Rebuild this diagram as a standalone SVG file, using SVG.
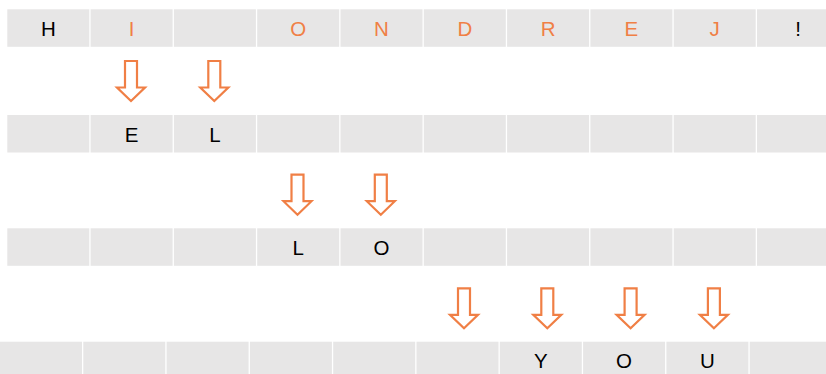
<svg xmlns="http://www.w3.org/2000/svg" width="826" height="374" viewBox="0 0 826 374">
<style>
.c{fill:#E7E6E6}
.t{font-family:"Liberation Sans",Arial,sans-serif;font-size:20.5px;text-anchor:middle;fill:#000}
.o{fill:#F07F45}
.a{fill:#FFFFFF;stroke:#F07F45;stroke-width:2.2;stroke-linejoin:miter}
</style>
<defs>
<path id="arr" class="a" d="M-6,0 H6 V26.5 H14 L0,40 L-14,26.5 H-6 Z"/>
</defs>
<rect width="826" height="374" fill="#FFFFFF"/>
<g id="row1">
<g id="r1c0"><rect class="c" x="7.3" y="9.3" width="82" height="37.5"/><text class="t" x="48.3" y="35.5">H</text></g>
<g id="r1c1"><rect class="c" x="90.6" y="9.3" width="82" height="37.5"/><text class="t o" x="131.6" y="35.5">I</text></g>
<g id="r1c2"><rect class="c" x="173.9" y="9.3" width="82" height="37.5"/></g>
<g id="r1c3"><rect class="c" x="257.2" y="9.3" width="82" height="37.5"/><text class="t o" x="298.2" y="35.5">O</text></g>
<g id="r1c4"><rect class="c" x="340.5" y="9.3" width="82" height="37.5"/><text class="t o" x="381.5" y="35.5">N</text></g>
<g id="r1c5"><rect class="c" x="423.8" y="9.3" width="82" height="37.5"/><text class="t o" x="464.8" y="35.5">D</text></g>
<g id="r1c6"><rect class="c" x="507.1" y="9.3" width="82" height="37.5"/><text class="t o" x="548.1" y="35.5">R</text></g>
<g id="r1c7"><rect class="c" x="590.4" y="9.3" width="82" height="37.5"/><text class="t o" x="631.4" y="35.5">E</text></g>
<g id="r1c8"><rect class="c" x="673.7" y="9.3" width="82" height="37.5"/><text class="t o" x="714.7" y="35.5">J</text></g>
<g id="r1c9"><rect class="c" x="757" y="9.3" width="82" height="37.5"/><text class="t" x="798" y="35.5">!</text></g>
</g>
<g id="row2">
<g id="r2c0"><rect class="c" x="7.3" y="115" width="82" height="37.5"/></g>
<g id="r2c1"><rect class="c" x="90.6" y="115" width="82" height="37.5"/><text class="t" x="131.6" y="141.5">E</text></g>
<g id="r2c2"><rect class="c" x="173.9" y="115" width="82" height="37.5"/><text class="t" x="214.9" y="141.5">L</text></g>
<g id="r2c3"><rect class="c" x="257.2" y="115" width="82" height="37.5"/></g>
<g id="r2c4"><rect class="c" x="340.5" y="115" width="82" height="37.5"/></g>
<g id="r2c5"><rect class="c" x="423.8" y="115" width="82" height="37.5"/></g>
<g id="r2c6"><rect class="c" x="507.1" y="115" width="82" height="37.5"/></g>
<g id="r2c7"><rect class="c" x="590.4" y="115" width="82" height="37.5"/></g>
<g id="r2c8"><rect class="c" x="673.7" y="115" width="82" height="37.5"/></g>
<g id="r2c9"><rect class="c" x="757" y="115" width="82" height="37.5"/></g>
</g>
<g id="row3">
<g id="r3c0"><rect class="c" x="7.3" y="228.3" width="82" height="37.5"/></g>
<g id="r3c1"><rect class="c" x="90.6" y="228.3" width="82" height="37.5"/></g>
<g id="r3c2"><rect class="c" x="173.9" y="228.3" width="82" height="37.5"/></g>
<g id="r3c3"><rect class="c" x="257.2" y="228.3" width="82" height="37.5"/><text class="t" x="298.2" y="254.8">L</text></g>
<g id="r3c4"><rect class="c" x="340.5" y="228.3" width="82" height="37.5"/><text class="t" x="381.5" y="254.8">O</text></g>
<g id="r3c5"><rect class="c" x="423.8" y="228.3" width="82" height="37.5"/></g>
<g id="r3c6"><rect class="c" x="507.1" y="228.3" width="82" height="37.5"/></g>
<g id="r3c7"><rect class="c" x="590.4" y="228.3" width="82" height="37.5"/></g>
<g id="r3c8"><rect class="c" x="673.7" y="228.3" width="82" height="37.5"/></g>
<g id="r3c9"><rect class="c" x="757" y="228.3" width="82" height="37.5"/></g>
</g>
<g id="row4">
<g id="r4c0"><rect class="c" x="0" y="341.7" width="82" height="37.5"/></g>
<g id="r4c1"><rect class="c" x="83.3" y="341.7" width="82" height="37.5"/></g>
<g id="r4c2"><rect class="c" x="166.6" y="341.7" width="82" height="37.5"/></g>
<g id="r4c3"><rect class="c" x="249.9" y="341.7" width="82" height="37.5"/></g>
<g id="r4c4"><rect class="c" x="333.2" y="341.7" width="82" height="37.5"/></g>
<g id="r4c5"><rect class="c" x="416.5" y="341.7" width="82" height="37.5"/></g>
<g id="r4c6"><rect class="c" x="499.8" y="341.7" width="82" height="37.5"/><text class="t" x="540.8" y="368.2">Y</text></g>
<g id="r4c7"><rect class="c" x="583.1" y="341.7" width="82" height="37.5"/><text class="t" x="624.1" y="368.2">O</text></g>
<g id="r4c8"><rect class="c" x="666.4" y="341.7" width="82" height="37.5"/><text class="t" x="707.4" y="368.2">U</text></g>
<g id="r4c9"><rect class="c" x="749.7" y="341.7" width="82" height="37.5"/></g>
</g>
<g id="connectors">
<use href="#arr" x="131" y="61"/>
<use href="#arr" x="214.3" y="61"/>
<use href="#arr" x="297.5" y="174.7"/>
<use href="#arr" x="380.8" y="174.7"/>
<use href="#arr" x="464" y="288.3"/>
<use href="#arr" x="547.3" y="288.3"/>
<use href="#arr" x="630.6" y="288.3"/>
<use href="#arr" x="713.9" y="288.3"/>
</g>
</svg>
